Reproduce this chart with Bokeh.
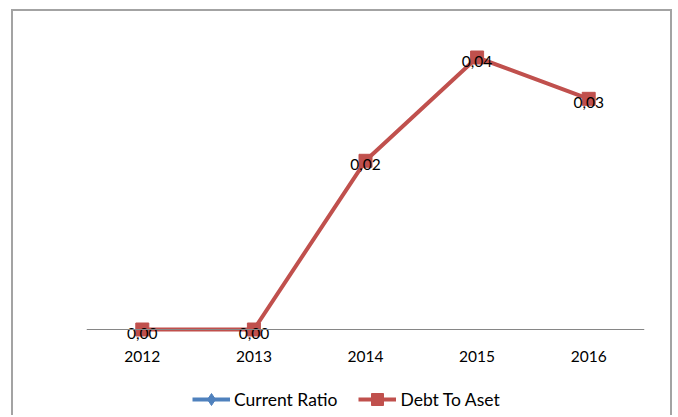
from bokeh.plotting import figure
from bokeh.models import (FactorRange, Range1d, CategoricalAxis, Legend,
                          LegendItem, ColumnDataSource)
from bokeh.core.properties import value
from bokeh.embed import file_html
from bokeh.resources import INLINE

# ---- data ----
years = ["2012", "2013", "2014", "2015", "2016"]
current_ratio = [float("nan")] * 5
debt_to_aset = [0.0, 0.0, 0.0245, 0.0395, 0.0335]
labels = [f"{v:.2f}".replace(".", ",") for v in debt_to_aset]

# ---- layout ----
W, H = 661, 406
MB_L, MB_R, MB_T = 73, 30, 9
AXIS_Y = 318                      # canvas pixel row of value 0
PX_PER_UNIT = 272 / 0.0395
y_end = (AXIS_Y - MB_T) / PX_PER_UNIT
y_start = -(H - AXIS_Y) / PX_PER_UNIT

FONT = "Lato"
RED = "#C0504D"
BLUE = "#4F81BD"

p = figure(width=W, height=H,
           x_range=FactorRange(*years, range_padding=0),
           y_range=Range1d(y_start, y_end),
           output_backend="svg", toolbar_location=None,
           x_axis_location=None, y_axis_location=None,
           min_border_left=MB_L, min_border_right=MB_R,
           min_border_top=MB_T, min_border_bottom=0,
           outline_line_color=None,
           background_fill_color="white", border_fill_color="white")
p.grid.grid_line_color = None
p.styles = {"margin-left": "11px", "margin-top": "9px",
            "border-top": "2px solid #a3a3a3",
            "border-left": "2px solid #a3a3a3",
            "border-right": "2px solid #a3a3a3"}

xaxis = CategoricalAxis(fixed_location=0,
                        axis_line_color="#868686", axis_line_width=1,
                        major_tick_line_color=None, minor_tick_line_color=None,
                        major_tick_out=0, major_tick_in=0,
                        major_label_standoff=21,
                        major_label_text_font=FONT,
                        major_label_text_font_size="15.5px",
                        major_label_text_color="black")
p.add_layout(xaxis, "below")

src = ColumnDataSource(dict(year=years, cr=current_ratio,
                            dta=debt_to_aset, label=labels))

cr_line = p.line(x="year", y="cr", source=src, line_color=BLUE, line_width=4)
cr_pts = p.scatter(x="year", y="cr", source=src, marker="diamond", size=14,
                   fill_color=BLUE, line_color=BLUE)
dta_line = p.line(x="year", y="dta", source=src, line_color=RED, line_width=4)
dta_pts = p.scatter(x="year", y="dta", source=src, marker="square", size=13,
                    fill_color=RED, line_color=RED)
p.text(x="year", y="dta", text="label", source=src,
       text_font=value(FONT), text_font_size="15.5px", text_color="black",
       text_align="center", text_baseline="middle", y_offset=4)

legend = Legend(items=[LegendItem(label="Current Ratio", renderers=[cr_line, cr_pts]),
                       LegendItem(label="Debt To Aset", renderers=[dta_line, dta_pts])],
                orientation="horizontal", location=(106, 3),
                glyph_width=38, glyph_height=30, label_height=30,
                label_standoff=4, spacing=21, padding=0, margin=0,
                border_line_color=None, background_fill_alpha=0,
                label_text_font=FONT, label_text_font_size="17.5px",
                label_text_color="black")
p.add_layout(legend)

open("out.html", "w").write(file_html(p, INLINE))
